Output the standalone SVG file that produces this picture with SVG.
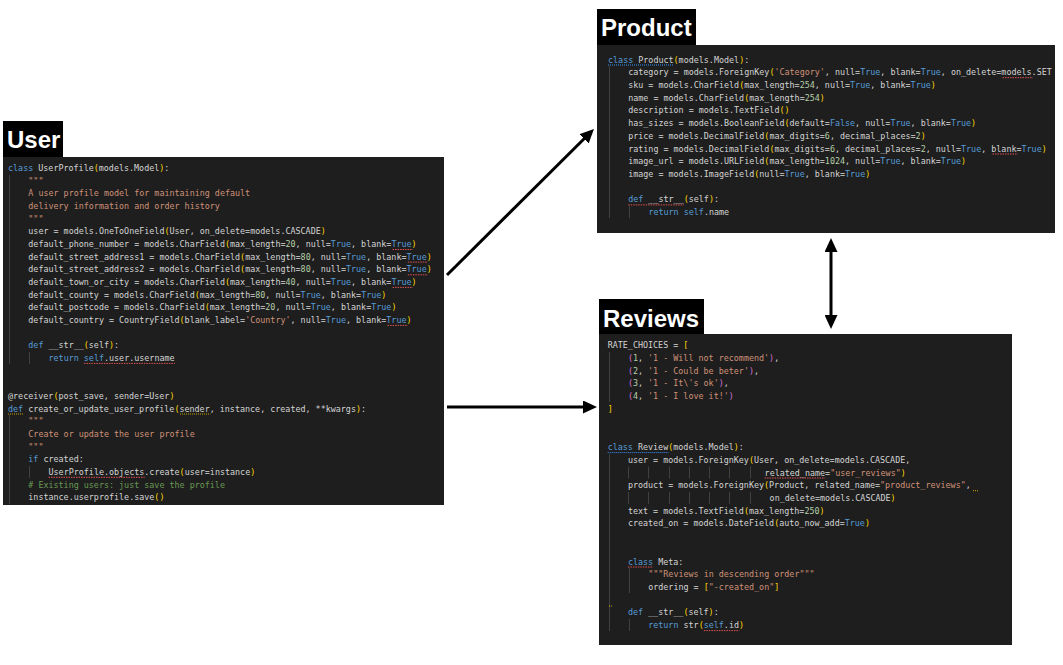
<svg xmlns="http://www.w3.org/2000/svg" width="1063" height="665" viewBox="0 0 1063 665">
<defs>
<style>
.bg{fill:#ffffff}
.panel{fill:#1e1e1e}
.lblbox{fill:#000000}
.lbl{font-family:"Liberation Sans",Arial,sans-serif;font-weight:bold;font-size:24px;fill:#ffffff}
.code{font-family:"DejaVu Sans Mono","Liberation Mono",monospace;font-size:8.4px;fill:#d4d4d4}
.k{fill:#569cd6}
.s{fill:#ce9178}
.n{fill:#b5cea8}
.b{fill:#ffd700}
.p{fill:#da70d6}
.g{fill:#6a9955}
.guide{stroke:#404040;stroke-width:1}
.sqr{stroke:#e05252;stroke-width:1;stroke-dasharray:1.5 1;fill:none}
.sqy{stroke:#cca700;stroke-width:1;stroke-dasharray:1 1;fill:none}
.sqb{stroke:#3794ff;stroke-width:1;stroke-dasharray:1 1;fill:none}
.arrow{stroke:#000000;stroke-width:3;fill:none}
</style>
<marker id="ah" viewBox="0 0 14 13" markerWidth="14" markerHeight="13" refX="4" refY="6.5" orient="auto-start-reverse" markerUnits="userSpaceOnUse">
<path d="M0,0 L14,6.5 L0,13 z" fill="#000000"/>
</marker>
</defs>
<rect class="bg" x="0" y="0" width="1063" height="665"/>

<g id="node-user">
<rect class="lblbox" x="3" y="121" width="60" height="36"/>
<text class="lbl" x="7" y="148">User</text>
<rect class="panel" x="3" y="157" width="441" height="348"/>
<line class="guide" x1="9.5" y1="175" x2="9.5" y2="364"/>
<line class="guide" x1="29.5" y1="352" x2="29.5" y2="364"/>
<line class="guide" x1="9.5" y1="415" x2="9.5" y2="504"/>
<line class="guide" x1="29.5" y1="466" x2="29.5" y2="478"/>
<g class="code">
<text x="8" y="171"><tspan class="k">class</tspan> UserProfile<tspan class="b">(</tspan>models.Model<tspan class="b">)</tspan>:</text>
<text x="28.3" y="183.66" class="s">"""</text>
<text x="28.3" y="196.32" class="s">A user profile model for maintaining default</text>
<text x="28.3" y="208.98" class="s">delivery information and order history</text>
<text x="28.3" y="221.64" class="s">"""</text>
<text x="28.3" y="234.3">user = models.OneToOneField<tspan class="b">(</tspan>User, on_delete=models.CASCADE<tspan class="b">)</tspan></text>
<text x="28.3" y="246.96">default_phone_number = models.CharField<tspan class="b">(</tspan>max_length=<tspan class="n">20</tspan>, null=<tspan class="k">True</tspan>, blank=<tspan class="k">True</tspan><tspan class="b">)</tspan></text>
<text x="28.3" y="259.62">default_street_address1 = models.CharField<tspan class="b">(</tspan>max_length=<tspan class="n">80</tspan>, null=<tspan class="k">True</tspan>, blank=<tspan class="k">True</tspan><tspan class="b">)</tspan></text>
<text x="28.3" y="272.28">default_street_address2 = models.CharField<tspan class="b">(</tspan>max_length=<tspan class="n">80</tspan>, null=<tspan class="k">True</tspan>, blank=<tspan class="k">True</tspan><tspan class="b">)</tspan></text>
<text x="28.3" y="284.94">default_town_or_city = models.CharField<tspan class="b">(</tspan>max_length=<tspan class="n">40</tspan>, null=<tspan class="k">True</tspan>, blank=<tspan class="k">True</tspan><tspan class="b">)</tspan></text>
<text x="28.3" y="297.6">default_county = models.CharField<tspan class="b">(</tspan>max_length=<tspan class="n">80</tspan>, null=<tspan class="k">True</tspan>, blank=<tspan class="k">True</tspan><tspan class="b">)</tspan></text>
<text x="28.3" y="310.26">default_postcode = models.CharField<tspan class="b">(</tspan>max_length=<tspan class="n">20</tspan>, null=<tspan class="k">True</tspan>, blank=<tspan class="k">True</tspan><tspan class="b">)</tspan></text>
<text x="28.3" y="322.92">default_country = CountryField<tspan class="b">(</tspan>blank_label=<tspan class="s">'Country'</tspan>, null=<tspan class="k">True</tspan>, blank=<tspan class="k">True</tspan><tspan class="b">)</tspan></text>
<text x="28.3" y="348.24"><tspan class="k">def</tspan> __str__<tspan class="b">(</tspan>self<tspan class="b">)</tspan>:</text>
<text x="48.5" y="360.9"><tspan class="k">return</tspan> <tspan class="k">self</tspan>.user.username</text>
<text x="8" y="398.88">@receiver<tspan class="b">(</tspan>post_save, sender=User<tspan class="b">)</tspan></text>
<text x="8" y="411.54"><tspan class="k">def</tspan> create_or_update_user_profile<tspan class="b">(</tspan>sender, instance, created, **kwargs<tspan class="b">)</tspan>:</text>
<text x="28.3" y="424.2" class="s">"""</text>
<text x="28.3" y="436.86" class="s">Create or update the user profile</text>
<text x="28.3" y="449.52" class="s">"""</text>
<text x="28.3" y="462.18"><tspan class="k">if</tspan> created:</text>
<text x="48.5" y="474.84">UserProfile.objects.create<tspan class="b">(</tspan>user=instance<tspan class="b">)</tspan></text>
<text x="28.3" y="487.5" class="g"># Existing users: just save the profile</text>
<text x="28.3" y="500.16">instance.userprofile.save<tspan class="b">()</tspan></text>
</g>
<line class="sqr" x1="392.6" y1="249.5" x2="412.9" y2="249.5"/>
<line class="sqr" x1="407.8" y1="262.1" x2="428" y2="262.1"/>
<line class="sqr" x1="407.8" y1="274.8" x2="428" y2="274.8"/>
<line class="sqr" x1="392.6" y1="287.4" x2="412.9" y2="287.4"/>
<line class="sqr" x1="387.6" y1="325.4" x2="407.8" y2="325.4"/>
<line class="sqr" x1="83.9" y1="363.4" x2="174.9" y2="363.4"/>
<line class="sqy" x1="8" y1="414" x2="23.2" y2="414"/>
<line class="sqy" x1="180" y1="414" x2="210.4" y2="414"/>
<line class="sqr" x1="48.5" y1="477.3" x2="144.6" y2="477.3"/>
</g>

<g id="node-product">
<rect class="lblbox" x="597" y="9" width="99" height="36"/>
<text class="lbl" x="601" y="36">Product</text>
<rect class="panel" x="597" y="45" width="458" height="188"/>
<line class="guide" x1="609.5" y1="66" x2="609.5" y2="218"/>
<line class="guide" x1="629.5" y1="206" x2="629.5" y2="218"/>
<g class="code">
<text x="608" y="62.5"><tspan class="k">class</tspan> Product<tspan class="b">(</tspan>models.Model<tspan class="b">)</tspan>:</text>
<text x="628.2" y="75.22">category = models.ForeignKey<tspan class="b">(</tspan><tspan class="s">'Category'</tspan>, null=<tspan class="k">True</tspan>, blank=<tspan class="k">True</tspan>, on_delete=models.SET</text>
<text x="628.2" y="87.94">sku = models.CharField<tspan class="b">(</tspan>max_length=<tspan class="n">254</tspan>, null=<tspan class="k">True</tspan>, blank=<tspan class="k">True</tspan><tspan class="b">)</tspan></text>
<text x="628.2" y="100.66">name = models.CharField<tspan class="b">(</tspan>max_length=<tspan class="n">254</tspan><tspan class="b">)</tspan></text>
<text x="628.2" y="113.38">description = models.TextField<tspan class="b">()</tspan></text>
<text x="628.2" y="126.1">has_sizes = models.BooleanField<tspan class="b">(</tspan>default=<tspan class="k">False</tspan>, null=<tspan class="k">True</tspan>, blank=<tspan class="k">True</tspan><tspan class="b">)</tspan></text>
<text x="628.2" y="138.82">price = models.DecimalField<tspan class="b">(</tspan>max_digits=<tspan class="n">6</tspan>, decimal_places=<tspan class="n">2</tspan><tspan class="b">)</tspan></text>
<text x="628.2" y="151.54">rating = models.DecimalField<tspan class="b">(</tspan>max_digits=<tspan class="n">6</tspan>, decimal_places=<tspan class="n">2</tspan>, null=<tspan class="k">True</tspan>, blank=<tspan class="k">True</tspan><tspan class="b">)</tspan></text>
<text x="628.2" y="164.26">image_url = models.URLField<tspan class="b">(</tspan>max_length=<tspan class="n">1024</tspan>, null=<tspan class="k">True</tspan>, blank=<tspan class="k">True</tspan><tspan class="b">)</tspan></text>
<text x="628.2" y="176.98">image = models.ImageField<tspan class="b">(</tspan>null=<tspan class="k">True</tspan>, blank=<tspan class="k">True</tspan><tspan class="b">)</tspan></text>
<text x="628.2" y="202.42"><tspan class="k">def</tspan> __str__<tspan class="b">(</tspan>self<tspan class="b">)</tspan>:</text>
<text x="648.4" y="215.14"><tspan class="k">return</tspan> <tspan class="k">self</tspan>.name</text>
</g>
<line class="sqb" x1="608" y1="65" x2="673.8" y2="65"/>
<line class="sqr" x1="1002.6" y1="77.7" x2="1033" y2="77.7"/>
<line class="sqr" x1="992.5" y1="154" x2="1017.8" y2="154"/>
<line class="sqr" x1="628.2" y1="204.9" x2="683.9" y2="204.9"/>
</g>

<g id="node-reviews">
<rect class="lblbox" x="599" y="299" width="105" height="35"/>
<text class="lbl" x="603" y="327">Reviews</text>
<rect class="panel" x="599" y="334" width="413" height="311"/>
<line class="guide" x1="609.5" y1="352" x2="609.5" y2="402"/>
<line class="guide" x1="609.5" y1="454" x2="609.5" y2="631"/>
<line class="guide" x1="629.5" y1="568" x2="629.5" y2="593"/>
<line class="guide" x1="629.5" y1="619" x2="629.5" y2="631"/>
<g class="guide">
<line x1="628.5" y1="466.5" x2="628.5" y2="478.5"/><line x1="648.5" y1="466.5" x2="648.5" y2="478.5"/><line x1="669.5" y1="466.5" x2="669.5" y2="478.5"/><line x1="689.5" y1="466.5" x2="689.5" y2="478.5"/><line x1="709.5" y1="466.5" x2="709.5" y2="478.5"/><line x1="729.5" y1="466.5" x2="729.5" y2="478.5"/><line x1="750.5" y1="466.5" x2="750.5" y2="478.5"/>
<line x1="628.5" y1="492" x2="628.5" y2="504"/><line x1="648.5" y1="492" x2="648.5" y2="504"/><line x1="669.5" y1="492" x2="669.5" y2="504"/><line x1="689.5" y1="492" x2="689.5" y2="504"/><line x1="709.5" y1="492" x2="709.5" y2="504"/><line x1="729.5" y1="492" x2="729.5" y2="504"/><line x1="750.5" y1="492" x2="750.5" y2="504"/>
</g>
<g class="code">
<text x="607.7" y="348.3">RATE_CHOICES = <tspan class="b">[</tspan></text>
<text x="627.9" y="361.02"><tspan class="p">(</tspan><tspan class="n">1</tspan>, <tspan class="s">'1 - Will not recommend'</tspan><tspan class="p">)</tspan>,</text>
<text x="627.9" y="373.74"><tspan class="p">(</tspan><tspan class="n">2</tspan>, <tspan class="s">'1 - Could be beter'</tspan><tspan class="p">)</tspan>,</text>
<text x="627.9" y="386.46"><tspan class="p">(</tspan><tspan class="n">3</tspan>, <tspan class="s">'1 - It\'s ok'</tspan><tspan class="p">)</tspan>,</text>
<text x="627.9" y="399.18"><tspan class="p">(</tspan><tspan class="n">4</tspan>, <tspan class="s">'1 - I love it!'</tspan><tspan class="p">)</tspan></text>
<text x="607.7" y="411.9" class="b">]</text>
<text x="607.7" y="450.06"><tspan class="k">class</tspan> Review<tspan class="b">(</tspan>models.Model<tspan class="b">)</tspan>:</text>
<text x="627.9" y="462.78">user = models.ForeignKey<tspan class="b">(</tspan>User, on_delete=models.CASCADE,</text>
<text x="764.6" y="475.5">related_name=<tspan class="s">"user_reviews"</tspan><tspan class="b">)</tspan></text>
<text x="627.9" y="488.22">product = models.ForeignKey<tspan class="b">(</tspan>Product, related_name=<tspan class="s">"product_reviews"</tspan>,</text>
<text x="769.6" y="500.94">on_delete=models.CASCADE<tspan class="b">)</tspan></text>
<text x="627.9" y="513.66">text = models.TextField<tspan class="b">(</tspan>max_length=<tspan class="n">250</tspan><tspan class="b">)</tspan></text>
<text x="627.9" y="526.38">created_on = models.DateField<tspan class="b">(</tspan>auto_now_add=<tspan class="k">True</tspan><tspan class="b">)</tspan></text>
<text x="627.9" y="564.54"><tspan class="k">class</tspan> Meta:</text>
<text x="648.2" y="577.26" class="s">"""Reviews in descending order"""</text>
<text x="648.2" y="589.98">ordering = <tspan class="b">[</tspan><tspan class="s">"-created_on"</tspan><tspan class="b">]</tspan></text>
<text x="627.9" y="615.42"><tspan class="k">def</tspan> __str__<tspan class="b">(</tspan>self<tspan class="b">)</tspan>:</text>
<text x="648.2" y="628.14"><tspan class="k">return</tspan> str<tspan class="b">(</tspan><tspan class="k">self</tspan>.id<tspan class="b">)</tspan></text>
</g>
<line class="sqb" x1="607.7" y1="452.6" x2="668.4" y2="452.6"/>
<line class="sqr" x1="764.6" y1="478" x2="825.3" y2="478"/>
<line class="sqy" x1="973" y1="490.7" x2="978" y2="490.7"/>
<line class="sqr" x1="627.9" y1="567" x2="653.2" y2="567"/>
<line class="sqy" x1="609" y1="606" x2="613" y2="606"/>
<line class="sqr" x1="703.9" y1="630.6" x2="739.3" y2="630.6"/>
</g>

<g id="connectors">
<line class="arrow" x1="447" y1="275" x2="586.9" y2="136.05" marker-end="url(#ah)"/>
<line class="arrow" x1="447" y1="407" x2="587" y2="407" marker-end="url(#ah)"/>
<line class="arrow" x1="831" y1="248" x2="831" y2="319" marker-start="url(#ah)" marker-end="url(#ah)"/>
</g>
</svg>
